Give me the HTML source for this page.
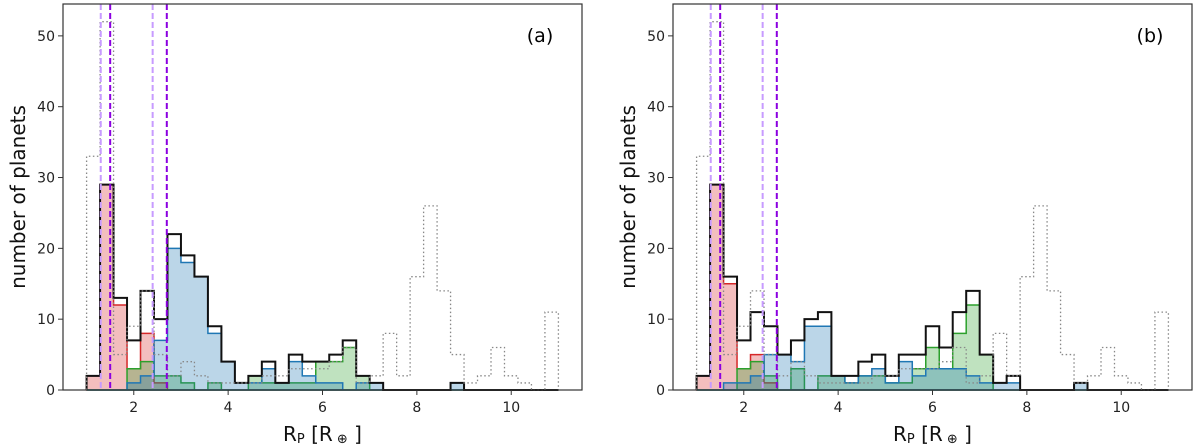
<!DOCTYPE html>
<html><head><meta charset="utf-8">
<style>
body{margin:0;background:#fff;}
svg{display:block;font-family:"DejaVu Sans","Liberation Sans",sans-serif;}
</style></head>
<body>
<svg id="chart" width="1200" height="447" viewBox="0 0 1200 447"></svg>
<script>
const binStart = 1, binEnd = 11, nBins = 35;
const grayAll = [33,52,5,9,14,5,2,4,2,1,1,1,1,2,2,3,3,3,4,6,1,2,8,2,16,26,14,5,1,2,6,2,1,0,11];
const blackA = [2,29,13,7,14,10,22,19,16,9,4,1,2,4,1,5,4,4,5,7,2,1,0,0,0,0,0,1,0,0,0,0,0,0,0];
const redA   = [2,29,12,3,8,1,0,0,0,0,0,0,0,0,0,0,0,0,0,0,0,0,0,0,0,0,0,0,0,0,0,0,0,0,0];
const greenA = [0,0,0,3,4,2,2,1,0,1,0,0,2,1,1,1,1,4,4,6,2,0,0,0,0,0,0,0,0,0,0,0,0,0,0];
const blueA  = [0,0,0,1,2,7,20,18,16,8,4,1,1,3,1,4,2,1,1,0,1,1,0,0,0,0,0,1,0,0,0,0,0,0,0];
const blackB = [2,29,16,7,11,9,5,7,10,11,2,2,4,5,2,5,5,9,6,11,14,5,1,2,0,0,0,0,1,0,0,0,0,0,0];
const redB   = [2,29,15,3,5,1,0,0,0,0,0,0,0,0,0,0,0,0,0,0,0,0,0,0,0,0,0,0,0,0,0,0,0,0,0];
const greenB = [0,0,0,3,4,2,0,3,0,2,2,1,2,2,1,1,3,6,3,8,12,5,0,0,0,0,0,0,0,0,0,0,0,0,0];
const blueB  = [0,0,1,1,2,5,5,4,9,9,2,1,2,3,1,4,2,3,3,3,2,1,1,1,0,0,0,0,1,0,0,0,0,0,0];
const vLinesLight = [1.3, 2.4];
const vLinesDark = [1.5, 2.7];
const xTicks = [2,4,6,8,10];
const yTicks = [0,10,20,30,40,50];
const panelLabels = ["(a)","(b)"];

const NS="http://www.w3.org/2000/svg";
const svg=document.getElementById('chart');
function mk(tag,attrs,parent){const e=document.createElementNS(NS,tag);for(const k in attrs)e.setAttribute(k,attrs[k]);(parent||svg).appendChild(e);return e;}

function panel(offX, label, black, red, green, blue){
  const L=63+offX, R=582+offX, T=4, B=390;
  const xs=v=>L+(v-0.5)/11*(R-L);
  const ys=v=>B-v*(B-T)/54.5;
  const bw=(binEnd-binStart)/nBins;
  const g=mk('g',{});
  
  
  function stepPath(arr){
    let d='M'+xs(binStart)+','+ys(0);
    arr.forEach((v,i)=>{d+=' L'+xs(binStart+i*bw)+','+ys(v)+' L'+xs(binStart+(i+1)*bw)+','+ys(v);});
    d+=' L'+xs(binEnd)+','+ys(0);
    return d;
  }
  function filled(arr,color,name){
    const p=mk('path',{d:stepPath(arr)+' Z',fill:color,'fill-opacity':0.3,stroke:color,'stroke-width':1.5},g);
    
    
  }
  filled(red,'#d62728','hist-red');
  filled(green,'#2ca02c','hist-green');
  filled(blue,'#1f77b4','hist-blue');
  const pb=mk('path',{d:stepPath(black),fill:'none',stroke:'#111','stroke-width':2},g);
  
  
  const pg=mk('path',{d:stepPath(grayAll),fill:'none',stroke:'#888','stroke-width':1.3,'stroke-dasharray':'1.5,2.5'},g);
  
  
  vLinesLight.forEach(v=>{const l=mk('line',{x1:xs(v),x2:xs(v),y1:T,y2:B,stroke:'#c79bff','stroke-width':2,'stroke-dasharray':'6,3'},g);
    
    });
  vLinesDark.forEach(v=>{const l=mk('line',{x1:xs(v),x2:xs(v),y1:T,y2:B,stroke:'#8b00e0','stroke-width':2,'stroke-dasharray':'6,3'},g);
    
    });
  const fr=mk('rect',{x:L,y:T,width:R-L,height:B-T,fill:'none',stroke:'#333','stroke-width':1.2},g);
  
  
  xTicks.forEach(t=>{mk('line',{x1:xs(t),x2:xs(t),y1:B,y2:B+5,stroke:'#333'},g);
    const tx=mk('text',{x:xs(t),y:B+22,'text-anchor':'middle','font-size':14,fill:'#222'},g);tx.textContent=t;
    
    });
  yTicks.forEach(t=>{mk('line',{x1:L-5,x2:L,y1:ys(t),y2:ys(t),stroke:'#333'},g);
    const tx=mk('text',{x:L-8,y:ys(t)+5,'text-anchor':'end','font-size':14,fill:'#222'},g);tx.textContent=t;
    
    });
  const yl=mk('text',{x:0,y:0,'text-anchor':'middle','font-size':20,fill:'#111',transform:`translate(${L-38},${(T+B)/2}) rotate(-90)`},g);
  yl.textContent='number of planets';
  
  
  const xl=mk('text',{x:(L+R)/2,y:441,'text-anchor':'middle','font-size':20,fill:'#111'},g);
  xl.innerHTML='R<tspan font-size="13" dy="2">P</tspan><tspan dy="-2"> [R</tspan><tspan font-size="13" dy="2"> ⊕</tspan><tspan dy="-2"> ]</tspan>';
  
  
  const pl=mk('text',{x:R-42,y:42,'text-anchor':'middle','font-size':19,fill:'#000'},g);
  pl.textContent=label;
  
  
}
panel(0,panelLabels[0],blackA,redA,greenA,blueA);
panel(610,panelLabels[1],blackB,redB,greenB,blueB);
</script>
</body></html>
